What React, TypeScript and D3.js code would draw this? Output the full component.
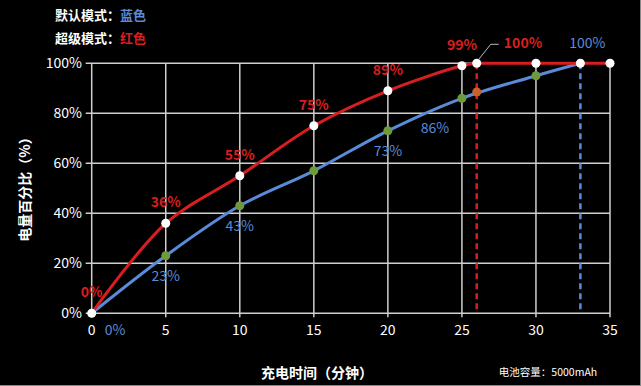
import React from "react";
import * as d3 from "d3";

const minutes = [0, 5, 10, 15, 20, 25, 26, 30, 33, 35];
const superMode = [0, 36, 55, 75, 89, 99, 100, 100, 100, 100];
const defaultMinutes = [0, 5, 10, 15, 20, 25, 30, 33];
const defaultMode = [0, 23, 43, 57, 73, 86, 95, 100];
const greenDotMinutes = [5, 10, 15, 20, 25, 30];
const crossMinute = 26;
const crossValue = 88.5;
const xTicks = [0, 5, 10, 15, 20, 25, 30, 35];
const yTicks = [0, 20, 40, 60, 80, 100];
const superLabels = [
  { m: 0, v: 0, t: "0%" },
  { m: 5, v: 36, t: "36%" },
  { m: 10, v: 55, t: "55%" },
  { m: 15, v: 75, t: "75%" },
  { m: 20, v: 89, t: "89%" },
  { m: 25, v: 99, t: "99%" },
];
const defaultLabels = [
  { m: 5, v: 23, t: "23%" },
  { m: 10, v: 43, t: "43%" },
  { m: 20, v: 73, t: "73%" },
  { m: 25, v: 86, t: "86%" },
];
const superFull = 26;
const defaultFull = 33;

const RED = "#d81e1e";
const BLUE = "#5a8bd8";
const GREEN = "#6e9a3c";
const GRID = "#cfcfcf";
const FONT = "'Noto Sans CJK SC', 'Noto Sans', sans-serif";

export default function App() {
  const W = 641, H = 386;
  const x = d3.scaleLinear().domain([0, 35]).range([91.7, 610]);
  const y = d3.scaleLinear().domain([0, 100]).range([313.3, 63.3]);

  const redPts: [number, number][] = minutes.map((m, i) => [m, superMode[i]]);
  const fullIdx = minutes.indexOf(superFull);
  const curveGen = d3.line<[number, number]>()
    .x((d) => x(d[0]))
    .y((d) => y(d[1]))
    .curve(d3.curveCatmullRom.alpha(0.5));
  const straightGen = d3.line<[number, number]>()
    .x((d) => x(d[0]))
    .y((d) => y(d[1]));
  const redRise = curveGen(redPts.slice(0, fullIdx + 1));
  const redFlat = straightGen(redPts.slice(fullIdx));
  const blueLine = curveGen(defaultMinutes.map((m, i) => [m, defaultMode[i]] as [number, number]));

  return (
    <svg width={W} height={H} style={{ position: "absolute", left: 0, top: 0, background: "#000" }} fontFamily={FONT}>
      <rect width={W} height={H} fill="#000" />
      <line x1={0} x2={W} y1={H - 0.5} y2={H - 0.5} stroke="#888" strokeWidth={1} />
      <line x1={W - 0.5} x2={W - 0.5} y1={0} y2={H} stroke="#888" strokeWidth={1} />
      {/* legend */}
      <text x={55} y={20} fill="#fff" fontSize={13} fontWeight="bold">默认模式：<tspan fill={BLUE}>蓝色</tspan></text>
      <text x={55} y={43} fill="#fff" fontSize={13} fontWeight="bold">超级模式：<tspan fill={RED}>红色</tspan></text>

      {/* grid */}
      {yTicks.map((t) => (
        <g key={"y" + t}>
          <line x1={x(0) - 6} x2={x(35)} y1={y(t)} y2={y(t)} stroke={GRID} strokeWidth={1.5} />
          <text x={82} y={y(t)} dy="0.35em" textAnchor="end" fill="#fff" fontSize={14}>{t}%</text>
        </g>
      ))}
      {xTicks.map((t) => (
        <g key={"x" + t}>
          <line x1={x(t)} x2={x(t)} y1={y(100)} y2={y(0) + 4} stroke={GRID} strokeWidth={1.5} />
          <text x={x(t)} y={330} dy="0.35em" textAnchor="middle" fill="#fff" fontSize={14}>{t}</text>
        </g>
      ))}

      {/* dashed verticals */}
      <line x1={x(superFull)} x2={x(superFull)} y1={y(100)} y2={y(0)} stroke={RED} strokeWidth={2.5} strokeDasharray="6,4" />
      <line x1={x(defaultFull)} x2={x(defaultFull)} y1={y(100)} y2={y(0)} stroke={BLUE} strokeWidth={2.5} strokeDasharray="6,4" />

      {/* lines */}
      <path d={blueLine || ""} fill="none" stroke={BLUE} strokeWidth={3} />
      <path d={redRise || ""} fill="none" stroke={RED} strokeWidth={3} />
      <path d={redFlat || ""} fill="none" stroke={RED} strokeWidth={3} />

      {/* dots */}
      {greenDotMinutes.map((m) => (
        <circle key={"g" + m} cx={x(m)} cy={y(defaultMode[defaultMinutes.indexOf(m)])} r={4.5} fill={GREEN} />
      ))}
      <circle cx={x(crossMinute)} cy={y(crossValue)} r={4.5} fill="#c9612a" />
      {minutes.map((m, i) => (
        <circle key={"w" + m} cx={x(m)} cy={y(superMode[i])} r={4.5} fill="#fff" />
      ))}

      {/* labels */}
      {superLabels.map((l) => (
        <text key={"sl" + l.m} x={x(l.m)} y={l.m === 0 ? 292 : y(l.v) - 21} dy="0.35em" textAnchor="middle" fill={RED} fontSize={14} fontWeight="bold">{l.t}</text>
      ))}
      {defaultLabels.map((l) => (
        <text key={"dl" + l.m} x={l.m === 25 ? x(l.m) - 27 : x(l.m)} y={l.m === 25 ? y(l.v) + 30 : y(l.v) + 20} dy="0.35em" textAnchor="middle" fill={BLUE} fontSize={14}>{l.t}</text>
      ))}
      <text x={115} y={330} dy="0.35em" textAnchor="middle" fill={BLUE} fontSize={14}>0%</text>
      <polyline points={`${x(superFull) + 2},${y(100) - 4} ${x(superFull) + 14},${y(100) - 19} ${x(superFull) + 22},${y(100) - 19}`} fill="none" stroke="#bbb" strokeWidth={1} />
      <text x={523} y={43} dy="0.35em" textAnchor="middle" fill={RED} fontSize={14} fontWeight="bold">100%</text>
      <text x={x(defaultFull) + 7} y={43} dy="0.35em" textAnchor="middle" fill={BLUE} fontSize={14}>100%</text>

      {/* axis titles */}
      <text transform="translate(25,186) rotate(-90)" textAnchor="middle" dy="0.35em" fill="#fff" fontSize={14} fontWeight="bold">电量百分比（%）</text>
      <text x={317} y={373} dy="0.35em" textAnchor="middle" fill="#fff" fontSize={14} fontWeight="bold">充电时间（分钟）</text>
      <text x={548} y={372} dy="0.35em" textAnchor="middle" fill="#fff" fontSize={10.5}>电池容量：5000mAh</text>
    </svg>
  );
}
